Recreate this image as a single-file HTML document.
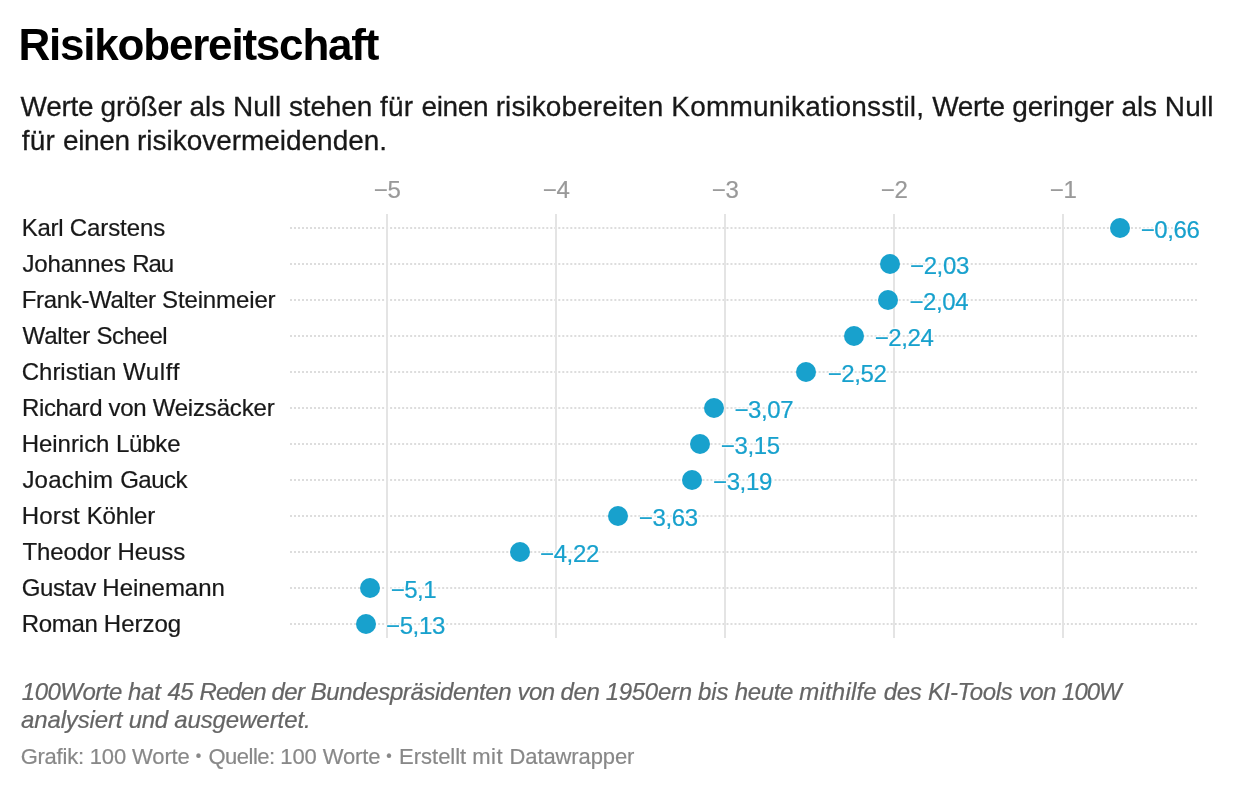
<!DOCTYPE html>
<html lang="de">
<head>
<meta charset="utf-8">
<title>Risikobereitschaft</title>
<style>
html,body{margin:0;padding:0;background:#fff;}
body{width:1240px;height:790px;position:relative;overflow:hidden;font-family:"Liberation Sans", sans-serif;}
.t{position:absolute;white-space:pre;line-height:1;margin:0;padding:0;font-kerning:normal;-webkit-text-stroke:0.009em currentColor;}
h1.t{-webkit-text-stroke:0;}
.grid{position:absolute;top:214px;width:2px;height:424px;background:#e4e4e4;}
.dls{position:absolute;left:0;top:0;}
.dls line{stroke:#ddd;stroke-width:2;stroke-dasharray:2 2.00442;}
.dot{position:absolute;width:20px;height:20px;border-radius:50%;background:#18a1cd;}
.b{font-size:0.71em;vertical-align:3px;}
.v{text-shadow:0 0 3px #fff,0 0 3px #fff,0 0 3px #fff,0 0 3px #fff,0 0 3px #fff;}
</style>
</head>
<body>
<svg class="dls" width="1240" height="790" viewBox="0 0 1240 790" aria-hidden="true">
<line x1="290" x2="1197" y1="228" y2="228"/>
<line x1="290" x2="1197" y1="264" y2="264"/>
<line x1="290" x2="1197" y1="300" y2="300"/>
<line x1="290" x2="1197" y1="336" y2="336"/>
<line x1="290" x2="1197" y1="372" y2="372"/>
<line x1="290" x2="1197" y1="408" y2="408"/>
<line x1="290" x2="1197" y1="444" y2="444"/>
<line x1="290" x2="1197" y1="480" y2="480"/>
<line x1="290" x2="1197" y1="516" y2="516"/>
<line x1="290" x2="1197" y1="552" y2="552"/>
<line x1="290" x2="1197" y1="588" y2="588"/>
<line x1="290" x2="1197" y1="624" y2="624"/>
</svg>
<div class="grid" style="left:386px"></div>
<div class="grid" style="left:555px"></div>
<div class="grid" style="left:724px"></div>
<div class="grid" style="left:893px"></div>
<div class="grid" style="left:1062px"></div>
<h1 id="title" class="t" style="left:18.40px;top:22.90px;font-size:44px;font-weight:700;font-style:normal;color:#000;letter-spacing:-1.200px;">Risikobereitschaft</h1>
<p id="d1" class="t" style="left:20.60px;top:92.70px;font-size:28px;font-weight:400;font-style:normal;color:#181818;"><span style="letter-spacing:-0.324px">Werte </span><span style="letter-spacing:-0.181px">größer </span><span style="letter-spacing:-0.048px">als </span><span style="letter-spacing:-0.027px">Null </span><span style="letter-spacing:-0.120px">stehen </span><span style="letter-spacing:0.270px">für </span><span style="letter-spacing:-0.341px">einen </span><span style="letter-spacing:0.084px">risikobereiten </span><span style="letter-spacing:0.210px">Kommunikationsstil, </span><span style="letter-spacing:-0.324px">Werte </span><span style="letter-spacing:-0.153px">geringer </span><span style="letter-spacing:-0.048px">als </span><span style="letter-spacing:0.180px">Null</span></p>
<p id="d2" class="t" style="left:21.68px;top:126.80px;font-size:28px;font-weight:400;font-style:normal;color:#181818;"><span style="letter-spacing:0.228px">für </span><span style="letter-spacing:-0.391px">einen </span><span style="letter-spacing:-0.027px">risikovermeidenden.</span></p>
<div id="t5" class="t" style="left:373.64px;top:178.00px;font-size:24px;font-weight:400;font-style:normal;color:#999;"><span style="letter-spacing:-0.094px">−5</span></div>
<div id="t4" class="t" style="left:542.64px;top:178.00px;font-size:24px;font-weight:400;font-style:normal;color:#999;"><span style="letter-spacing:-0.094px">−4</span></div>
<div id="t3" class="t" style="left:711.64px;top:178.00px;font-size:24px;font-weight:400;font-style:normal;color:#999;"><span style="letter-spacing:-0.094px">−3</span></div>
<div id="t2" class="t" style="left:880.64px;top:178.00px;font-size:24px;font-weight:400;font-style:normal;color:#999;"><span style="letter-spacing:-0.094px">−2</span></div>
<div id="t1" class="t" style="left:1049.64px;top:178.00px;font-size:24px;font-weight:400;font-style:normal;color:#999;"><span style="letter-spacing:-0.094px">−1</span></div>
<div id="r0" class="t" style="left:21.75px;top:215.50px;font-size:24px;font-weight:400;font-style:normal;color:#181818;"><span style="letter-spacing:-0.269px">Karl </span><span style="letter-spacing:-0.080px">Carstens</span></div>
<div id="v0" class="t v" style="left:1140.64px;top:217.80px;font-size:24px;font-weight:400;font-style:normal;color:#18a1cd;"><span style="letter-spacing:-0.377px">−0,66</span></div>
<div id="r1" class="t" style="left:22.38px;top:251.50px;font-size:24px;font-weight:400;font-style:normal;color:#181818;"><span style="letter-spacing:-0.098px">Johannes </span><span style="letter-spacing:-1.094px">Rau</span></div>
<div id="v1" class="t v" style="left:910.02px;top:253.80px;font-size:24px;font-weight:400;font-style:normal;color:#18a1cd;"><span style="letter-spacing:-0.377px">−2,03</span></div>
<div id="r2" class="t" style="left:21.71px;top:287.50px;font-size:24px;font-weight:400;font-style:normal;color:#181818;"><span style="letter-spacing:-0.321px">Frank-Walter </span><span style="letter-spacing:-0.124px">Steinmeier</span></div>
<div id="v2" class="t v" style="left:909.40px;top:289.80px;font-size:24px;font-weight:400;font-style:normal;color:#18a1cd;"><span style="letter-spacing:-0.377px">−2,04</span></div>
<div id="r3" class="t" style="left:22.52px;top:323.50px;font-size:24px;font-weight:400;font-style:normal;color:#181818;"><span style="letter-spacing:-0.151px">Walter </span><span style="letter-spacing:-0.467px">Scheel</span></div>
<div id="v3" class="t v" style="left:874.64px;top:325.80px;font-size:24px;font-weight:400;font-style:normal;color:#18a1cd;"><span style="letter-spacing:-0.377px">−2,24</span></div>
<div id="r4" class="t" style="left:21.77px;top:359.50px;font-size:24px;font-weight:400;font-style:normal;color:#181818;"><span style="letter-spacing:-0.024px">Christian </span><span style="letter-spacing:0.648px">Wulff</span></div>
<div id="v4" class="t v" style="left:827.64px;top:361.80px;font-size:24px;font-weight:400;font-style:normal;color:#18a1cd;"><span style="letter-spacing:-0.377px">−2,52</span></div>
<div id="r5" class="t" style="left:22.04px;top:395.50px;font-size:24px;font-weight:400;font-style:normal;color:#181818;"><span style="letter-spacing:-0.369px">Richard </span><span style="letter-spacing:-0.296px">von </span><span style="letter-spacing:-0.173px">Weizsäcker</span></div>
<div id="v5" class="t v" style="left:734.40px;top:397.80px;font-size:24px;font-weight:400;font-style:normal;color:#18a1cd;"><span style="letter-spacing:-0.377px">−3,07</span></div>
<div id="r6" class="t" style="left:21.75px;top:431.50px;font-size:24px;font-weight:400;font-style:normal;color:#181818;"><span style="letter-spacing:-0.051px">Heinrich </span><span style="letter-spacing:-0.225px">Lübke</span></div>
<div id="v6" class="t v" style="left:720.80px;top:433.80px;font-size:24px;font-weight:400;font-style:normal;color:#18a1cd;"><span style="letter-spacing:-0.377px">−3,15</span></div>
<div id="r7" class="t" style="left:22.38px;top:467.50px;font-size:24px;font-weight:400;font-style:normal;color:#181818;"><span style="letter-spacing:0.224px">Joachim </span><span style="letter-spacing:-0.502px">Gauck</span></div>
<div id="v7" class="t v" style="left:713.02px;top:469.80px;font-size:24px;font-weight:400;font-style:normal;color:#18a1cd;"><span style="letter-spacing:-0.377px">−3,19</span></div>
<div id="r8" class="t" style="left:21.75px;top:503.50px;font-size:24px;font-weight:400;font-style:normal;color:#181818;"><span style="letter-spacing:0.154px">Horst </span><span style="letter-spacing:-0.154px">Köhler</span></div>
<div id="v8" class="t v" style="left:638.80px;top:505.80px;font-size:24px;font-weight:400;font-style:normal;color:#18a1cd;"><span style="letter-spacing:-0.377px">−3,63</span></div>
<div id="r9" class="t" style="left:22.50px;top:539.50px;font-size:24px;font-weight:400;font-style:normal;color:#181818;"><span style="letter-spacing:-0.141px">Theodor </span><span style="letter-spacing:-0.082px">Heuss</span></div>
<div id="v9" class="t v" style="left:540.02px;top:541.80px;font-size:24px;font-weight:400;font-style:normal;color:#18a1cd;"><span style="letter-spacing:-0.377px">−4,22</span></div>
<div id="r10" class="t" style="left:21.70px;top:575.50px;font-size:24px;font-weight:400;font-style:normal;color:#181818;"><span style="letter-spacing:-0.295px">Gustav </span><span style="letter-spacing:-0.028px">Heinemann</span></div>
<div id="v10" class="t v" style="left:390.64px;top:577.80px;font-size:24px;font-weight:400;font-style:normal;color:#18a1cd;"><span style="letter-spacing:-0.504px">−5,1</span></div>
<div id="r11" class="t" style="left:21.75px;top:611.50px;font-size:24px;font-weight:400;font-style:normal;color:#181818;"><span style="letter-spacing:-0.327px">Roman </span><span style="letter-spacing:-0.009px">Herzog</span></div>
<div id="v11" class="t v" style="left:386.02px;top:613.80px;font-size:24px;font-weight:400;font-style:normal;color:#18a1cd;"><span style="letter-spacing:-0.377px">−5,13</span></div>
<p id="n1" class="t" style="left:21.85px;top:679.60px;font-size:24px;font-weight:400;font-style:italic;color:#656565;"><span style="letter-spacing:-0.520px">100Worte </span><span style="letter-spacing:-0.119px">hat </span><span style="letter-spacing:-0.429px">45 </span><span style="letter-spacing:-0.922px">Reden </span><span style="letter-spacing:-0.512px">der </span><span style="letter-spacing:-0.369px">Bundespräsidenten </span><span style="letter-spacing:-0.619px">von </span><span style="letter-spacing:-0.377px">den </span><span style="letter-spacing:-0.289px">1950ern </span><span style="letter-spacing:-0.167px">bis </span><span style="letter-spacing:-0.367px">heute </span><span style="letter-spacing:0.190px">mithilfe </span><span style="letter-spacing:-0.286px">des </span><span style="letter-spacing:-0.347px">KI-Tools </span><span style="letter-spacing:-0.494px">von </span><span style="letter-spacing:-1.003px">100W</span></p>
<p id="n2" class="t" style="left:21.04px;top:707.50px;font-size:24px;font-weight:400;font-style:italic;color:#656565;"><span style="letter-spacing:-0.145px">analysiert </span><span style="letter-spacing:-0.356px">und </span><span style="letter-spacing:-0.081px">ausgewertet.</span></p>
<p id="f" class="t" style="left:20.64px;top:745.90px;font-size:22px;font-weight:400;font-style:normal;color:#888;"><span style="letter-spacing:-0.228px">Grafik: </span><span style="letter-spacing:-0.112px">100 </span><span style="letter-spacing:-0.133px">Worte </span><span style="letter-spacing:0.618px"><span class="b">•</span> </span><span style="letter-spacing:-0.504px">Quelle: </span><span style="letter-spacing:-0.112px">100 </span><span style="letter-spacing:-0.133px">Worte </span><span style="letter-spacing:0.618px"><span class="b">•</span> </span><span style="letter-spacing:-0.014px">Erstellt </span><span style="letter-spacing:0.424px">mit </span><span style="letter-spacing:-0.098px">Datawrapper</span></p>
<div class="dot" style="left:1110.0px;top:218px"></div>
<div class="dot" style="left:880.0px;top:254px"></div>
<div class="dot" style="left:878.0px;top:290px"></div>
<div class="dot" style="left:844.0px;top:326px"></div>
<div class="dot" style="left:796.0px;top:362px"></div>
<div class="dot" style="left:704.0px;top:398px"></div>
<div class="dot" style="left:690.0px;top:434px"></div>
<div class="dot" style="left:682.0px;top:470px"></div>
<div class="dot" style="left:608.0px;top:506px"></div>
<div class="dot" style="left:510.0px;top:542px"></div>
<div class="dot" style="left:360.0px;top:578px"></div>
<div class="dot" style="left:356.0px;top:614px"></div>
</body>
</html>
